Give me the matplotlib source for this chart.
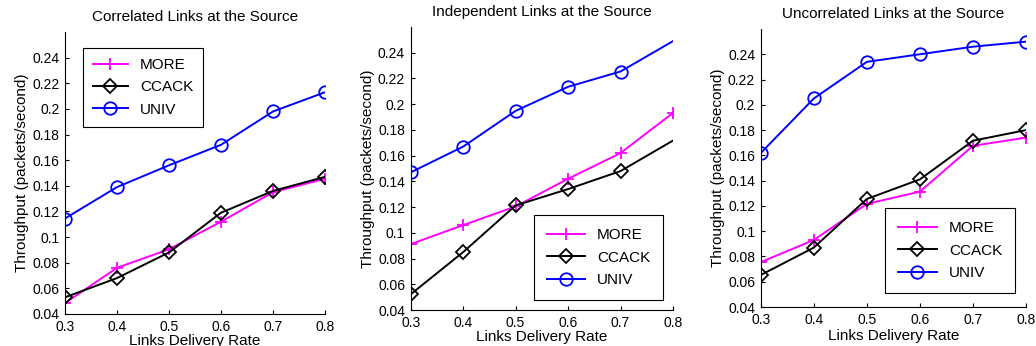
import matplotlib
matplotlib.use("Agg")
import matplotlib.pyplot as plt

plt.rcParams['font.family'] = ['Liberation Sans', 'DejaVu Sans']

x = [0.3, 0.4, 0.5, 0.6, 0.7, 0.8]
titles = ["Correlated Links at the Source", "Independent Links at the Source",
          "Uncorrelated Links at the Source"]

more_corr = [0.0485, 0.076, 0.0905, 0.112, 0.135, 0.1455]
ccack_corr = [0.053, 0.068, 0.088, 0.119, 0.136, 0.147]
univ_corr = [0.1145, 0.139, 0.156, 0.172, 0.198, 0.213]

more_ind = [0.0912, 0.106, 0.1205, 0.142, 0.162, 0.1932]
ccack_ind = [0.0522, 0.085, 0.1213, 0.134, 0.148, 0.1717]
univ_ind = [0.147, 0.167, 0.1948, 0.2135, 0.2254, 0.249]

more_unc = [0.0755, 0.093, 0.1216, 0.1313, 0.1676, 0.174]
ccack_unc = [0.0653, 0.087, 0.1255, 0.141, 0.1716, 0.180]
univ_unc = [0.1618, 0.205, 0.234, 0.24, 0.246, 0.250]

yticks = [0.04, 0.06, 0.08, 0.1, 0.12, 0.14, 0.16, 0.18, 0.2, 0.22, 0.24]
ytick_labels = ["0.04", "0.06", "0.08", "0.1", "0.12", "0.14", "0.16", "0.18", "0.2", "0.22", "0.24"]
xtick_labels = ["0.3", "0.4", "0.5", "0.6", "0.7", "0.8"]

fig = plt.figure(figsize=(10.36, 3.46), dpi=100)
positions = [
    [0.0627, 0.0925, 0.2510, 0.8150],
    [0.3964, 0.1040, 0.2532, 0.8180],
    [0.7343, 0.1127, 0.2561, 0.8035],
]
data = [
    (more_corr, ccack_corr, univ_corr, None),
    (more_ind, ccack_ind, univ_ind, "last"),
    (more_unc, ccack_unc, univ_unc, None),
]
legend_opts = [
    dict(loc='upper left', bbox_to_anchor=(0.069, 0.943), borderpad=0.65, handlelength=2.3),
    dict(loc='lower right', bbox_to_anchor=(0.963, 0.035), borderpad=0.85, handlelength=2.5),
    dict(loc='lower right', bbox_to_anchor=(0.9585, 0.05), borderpad=0.85, handlelength=2.5),
]
xlabel_pads = [0, 0, 2]

for i in range(3):
    ax = fig.add_axes(positions[i])
    m, c, u, skip = data[i]
    me_all = list(range(len(x)))
    me_skip = me_all[:-1] if skip == "last" else me_all
    ax.plot(x, m, color='#ff00ff', marker='+', markersize=9, mew=1.3, lw=1.4, label='MORE')
    ax.plot(x, c, color='black', marker='D', markersize=7, mfc='none', mew=1.3, lw=1.4,
            markevery=me_skip, label='CCACK')
    ax.plot(x, u, color='#0000ff', marker='o', markersize=9, mfc='none', mew=1.3, lw=1.4,
            markevery=me_skip, label='UNIV')
    ax.set_xlim(0.3, 0.8)
    ax.set_ylim(0.04, 0.26)
    ax.set_xticks(x)
    ax.set_xticklabels(xtick_labels)
    ax.set_yticks(yticks)
    ax.set_yticklabels(ytick_labels)
    ax.tick_params(direction='in', length=3, labelsize=10, pad=4)
    ax.spines['top'].set_visible(False)
    ax.spines['right'].set_visible(False)
    ax.set_title(titles[i], fontsize=11, pad=8)
    ax.set_xlabel("Links Delivery Rate", fontsize=11, labelpad=xlabel_pads[i])
    ax.set_ylabel("Throughput (packets/second)", fontsize=11, labelpad=2)
    leg = ax.legend(fontsize=11, fancybox=False, edgecolor='black', framealpha=1,
                    labelspacing=0.55, borderaxespad=0, **legend_opts[i])
    leg.get_frame().set_linewidth(0.8)

fig.savefig("out.png", dpi=100)
